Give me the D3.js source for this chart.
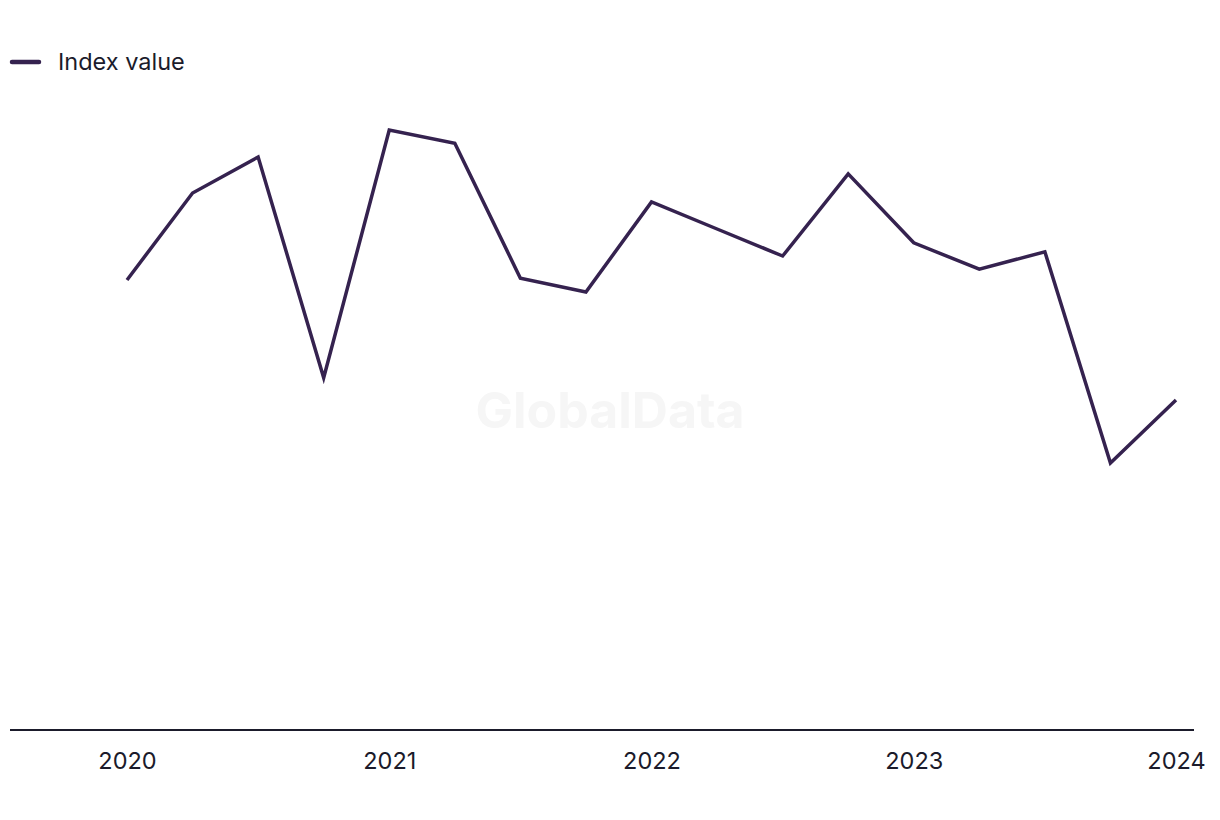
<!DOCTYPE html>
<html>
<head>
<meta charset="utf-8">
<script src="https://cdn.jsdelivr.net/npm/d3@7"></script>
<style>
  html, body { margin: 0; padding: 0; background: #fff; }
  svg { display: block; font-family: "Inter", "Roboto", sans-serif; }
</style>
</head>
<body>
<svg id="chart" width="1220" height="820"></svg>
<script>
// quarterly periods, expressed as fractional years
const periods = [2020, 2020.25, 2020.5, 2020.75,
                 2021, 2021.25, 2021.5, 2021.75,
                 2022, 2022.25, 2022.5, 2022.75,
                 2023, 2023.25, 2023.5, 2023.75,
                 2024];
const indexValues = [75.0, 89.5, 95.5, 58.7,
                     100.0, 97.8, 75.3, 73.0,
                     88.0, 83.5, 79.0, 92.7,
                     81.2, 76.8, 79.7, 44.5,
                     55.0];
const yearTicks = [2020, 2021, 2022, 2023, 2024];
const seriesName = "Index value";

const svg = d3.select("#chart"),
      lineColor = "#35224f",
      inkColor = "#1b1b2b";

let x = d3.scaleLinear().domain([2020, 2024]).range([127, 1176]),
    y = d3.scaleLinear().domain([0, 100]).range([730, 130]);

let data = periods.map((p, i) => ({ period: p, value: indexValues[i] }));

// watermark
svg.append("text")
  .attr("x", 610)
  .attr("y", 428)
  .attr("text-anchor", "middle")
  .attr("font-size", 50)
  .attr("font-weight", 700)
  .attr("fill", "#f6f6f6")
  .text("GlobalData");

// baseline
svg.append("line")
  .attr("x1", 10).attr("x2", 1194)
  .attr("y1", y(0)).attr("y2", y(0))
  .attr("stroke", inkColor)
  .attr("stroke-width", 2);

// x axis labels
let xAxis = d3.axisBottom(x)
  .tickValues(yearTicks)
  .tickFormat(d3.format("d"))
  .tickSize(0)
  .tickPadding(22);

svg.append("g")
  .attr("transform", `translate(0,${y(0)})`)
  .call(xAxis)
  .call(g => g.select(".domain").remove())
  .call(g => g.selectAll("text")
    .attr("font-size", 23.5)
    .attr("font-family", "Inter, Roboto, sans-serif")
    .attr("fill", inkColor));

// the series
let line = d3.line()
  .x(d => x(d.period))
  .y(d => y(d.value));

svg.append("path")
  .datum(data)
  .attr("d", line)
  .attr("fill", "none")
  .attr("stroke", lineColor)
  .attr("stroke-width", 3.5)
  .attr("stroke-linejoin", "miter");

// legend
let legend = svg.append("g").attr("transform", "translate(12,62)");

legend.append("line")
  .attr("x1", 0).attr("x2", 27)
  .attr("stroke", lineColor)
  .attr("stroke-width", 4.5)
  .attr("stroke-linecap", "round");

legend.append("text")
  .attr("x", 46)
  .attr("dy", "0.35em")
  .attr("font-size", 23.5)
  .attr("fill", inkColor)
  .text(seriesName);
</script>
</body>
</html>
